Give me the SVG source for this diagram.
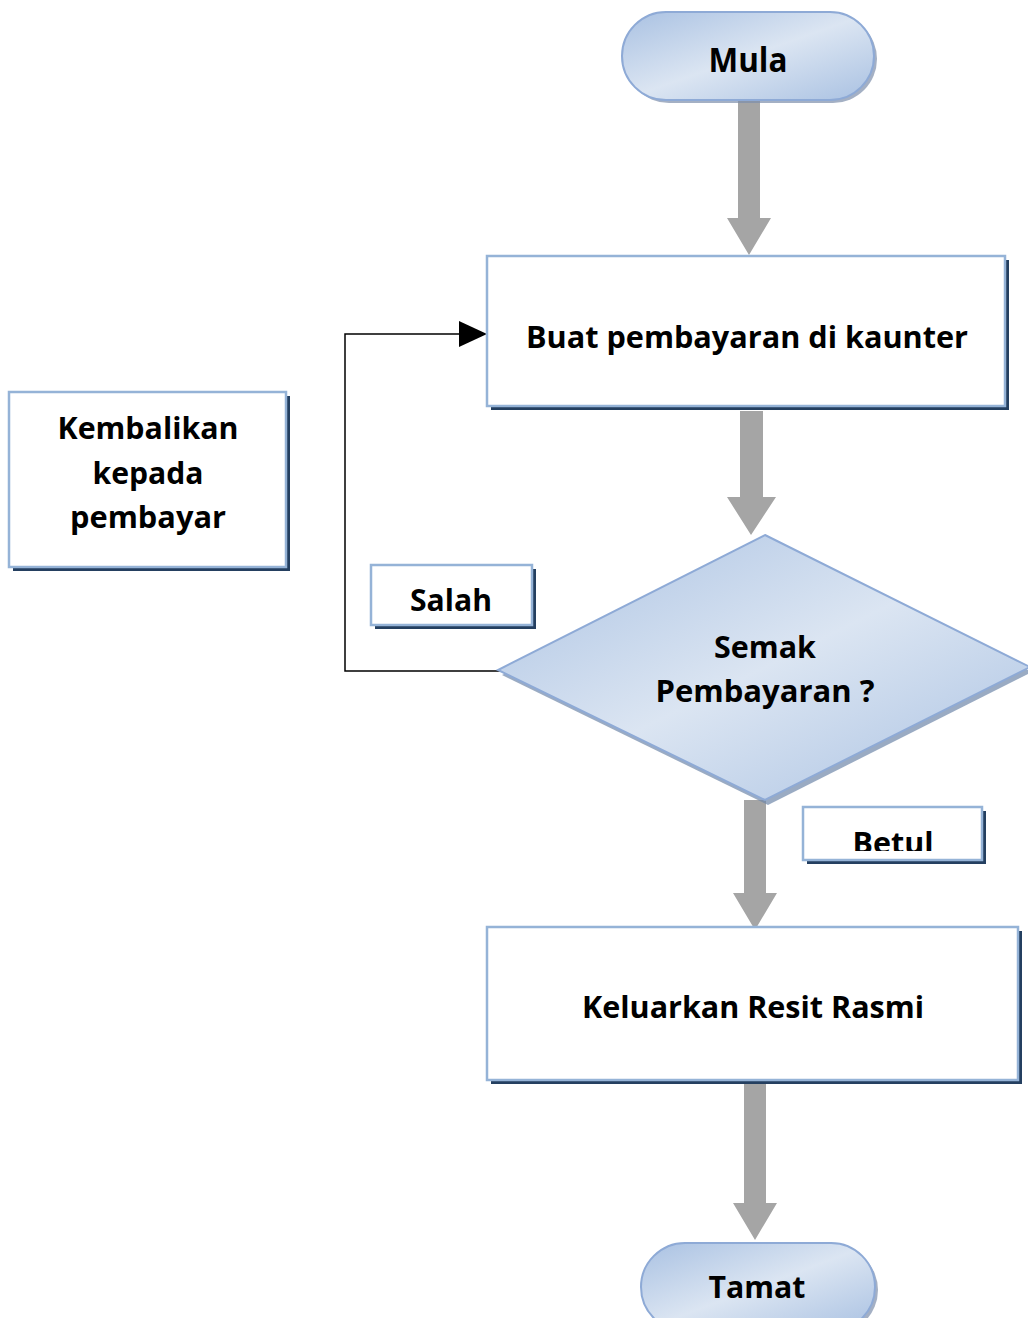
<svg xmlns="http://www.w3.org/2000/svg" width="1028" height="1318" viewBox="0 0 1028 1318">
<defs>
<linearGradient id="gblue" x1="0" y1="0" x2="1" y2="1">
<stop offset="0" stop-color="#a9c1e2"/>
<stop offset="0.5" stop-color="#dbe5f2"/>
<stop offset="1" stop-color="#a9c1e2"/>
</linearGradient>
<clipPath id="betulClip"><rect x="805" y="809" width="175" height="42"/></clipPath>
</defs>
<style>
text{font-family:"Open Sans","Liberation Sans",sans-serif;font-weight:bold;fill:#000;text-anchor:middle}
.t{font-size:31px}
.box{fill:#fff;stroke:#95b3d7;stroke-width:2.5}
.shadow{fill:#243f60}
.term{fill:url(#gblue);stroke:#8eaad6;stroke-width:2}
.tshadow{fill:#7d8fab;opacity:0.7}
.garrow{fill:#a5a5a5}
</style>
<g id="connectors">
<polygon class="garrow" points="738,100 760,100 760,218 771,218 749,255 727,218 738,218"/>
<polygon class="garrow" points="740,411 763,411 763,497 776,497 751,535 727,497 740,497"/>
<polygon class="garrow" points="744,800 766,800 766,893 777,893 755,930 733,893 744,893"/>
<polygon class="garrow" points="744,1082 766,1082 766,1203 777,1203 755,1240 733,1203 744,1203"/>
<polyline points="505,671 345,671 345,334 460,334" fill="none" stroke="#000" stroke-width="1.5"/>
<polygon points="487,334 459,321 459,347" fill="#000"/>
</g>
<g id="mula">
<rect class="tshadow" x="625" y="15" width="252" height="88" rx="44"/>
<rect class="term" x="622" y="12" width="252" height="88" rx="44"/>
<text x="748" y="72" font-size="34" textLength="79" lengthAdjust="spacingAndGlyphs">Mula</text>
</g>
<g id="buat">
<rect class="shadow" x="491" y="260" width="518" height="150"/>
<rect class="box" x="487" y="256" width="518" height="150"/>
<text class="t" x="747" y="348" textLength="442" lengthAdjust="spacingAndGlyphs">Buat pembayaran di kaunter</text>
</g>
<g id="kembalikan">
<rect class="shadow" x="13" y="396" width="277" height="175"/>
<rect class="box" x="9" y="392" width="277" height="175"/>
<text class="t" x="148" y="439" textLength="181" lengthAdjust="spacingAndGlyphs">Kembalikan</text>
<text class="t" x="148" y="484" textLength="111" lengthAdjust="spacingAndGlyphs">kepada</text>
<text class="t" x="148" y="528" textLength="156" lengthAdjust="spacingAndGlyphs">pembayar</text>
</g>
<g id="salah">
<rect class="shadow" x="375" y="569" width="161" height="60"/>
<rect class="box" x="371" y="565" width="161" height="60"/>
<text class="t" x="451" y="611" textLength="82" lengthAdjust="spacingAndGlyphs">Salah</text>
</g>
<g id="semak">
<polygon points="768,540 1032,672 768,805 502,675" fill="#6f87aa" opacity="0.7"/>
<polygon points="765,535 1030,667 765,800 498,670" fill="url(#gblue)" stroke="#8eaad6" stroke-width="2"/>
<text class="t" x="765" y="658" textLength="102" lengthAdjust="spacingAndGlyphs">Semak</text>
<text class="t" x="765" y="702" textLength="219" lengthAdjust="spacingAndGlyphs">Pembayaran ?</text>
</g>
<g id="betul">
<rect class="shadow" x="807" y="811" width="179" height="53"/>
<rect class="box" x="803" y="807" width="179" height="53"/>
<text class="t" x="893" y="854" textLength="81" lengthAdjust="spacingAndGlyphs" clip-path="url(#betulClip)">Betul</text>
</g>
<g id="keluarkan">
<rect class="shadow" x="491" y="931" width="531" height="153"/>
<rect class="box" x="487" y="927" width="531" height="153"/>
<text class="t" x="753" y="1018" textLength="342" lengthAdjust="spacingAndGlyphs">Keluarkan Resit Rasmi</text>
</g>
<g id="tamat">
<rect class="tshadow" x="644" y="1246" width="234" height="88" rx="44"/>
<rect class="term" x="641" y="1243" width="234" height="88" rx="44"/>
<text class="t" x="757" y="1298" textLength="97" lengthAdjust="spacingAndGlyphs">Tamat</text>
</g>
</svg>
